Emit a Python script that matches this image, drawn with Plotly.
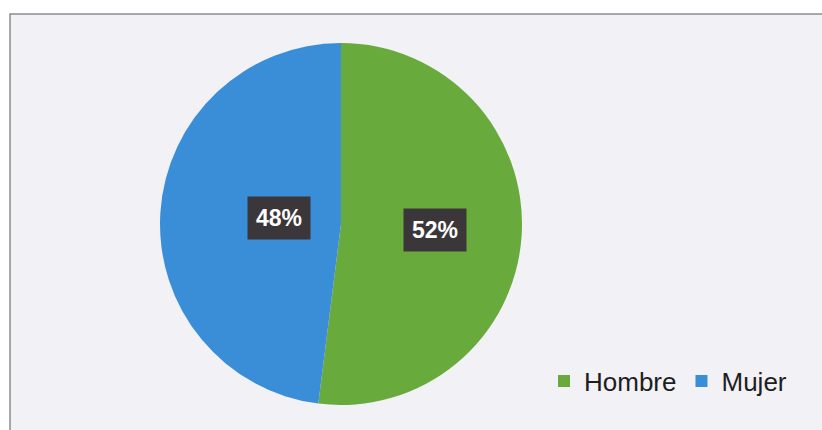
import math
import plotly.graph_objects as go

labels = ["Hombre", "Mujer"]
values = [52, 48]
colors = ["#68aa3c", "#3a8ed8"]

W, H = 822, 430
cx_px, cy_px, R_px = 341, 224, 181

dom_x = [(cx_px - R_px) / W, (cx_px + R_px) / W]
dom_y = [1 - (cy_px + R_px) / H, 1 - (cy_px - R_px) / H]

fig = go.Figure()
fig.add_trace(go.Pie(
    labels=labels, values=values,
    marker=dict(colors=colors, line=dict(width=0)),
    sort=False, direction="clockwise", rotation=0,
    textinfo="none", hoverinfo="label+percent",
    domain=dict(x=dom_x, y=dom_y),
))

# label boxes placed at the mid-angle of each slice
total = sum(values)
cum = 0
annotations = []
for v in values:
    mid = (cum + v / 2) / total * 2 * math.pi
    cum += v
    r = 0.52 * R_px
    px = cx_px + r * math.sin(mid)
    py = cy_px - r * math.cos(mid)
    annotations.append(dict(
        x=px / W, y=1 - py / H, xref="paper", yref="paper",
        text=f"<b>{round(v / total * 100)}%</b>", showarrow=False,
        font=dict(family="Liberation Sans, Arial, sans-serif", size=23, color="white"),
        bgcolor="#3b3639", borderpad=8,
    ))

fig.update_layout(
    width=W, height=H,
    margin=dict(l=0, r=0, t=0, b=0),
    paper_bgcolor="white",
    shapes=[dict(type="rect", xref="paper", yref="paper",
                 x0=10 / W, x1=1.01, y0=-0.01, y1=1 - 14 / H,
                 fillcolor="#f1f1f6", line=dict(color="#8a8a92", width=1.5),
                 layer="below")],
    annotations=annotations,
    showlegend=True,
    legend=dict(orientation="h", x=792 / W, xanchor="right", y=1 - 381 / H, yanchor="middle",
                font=dict(family="Liberation Sans, Arial, sans-serif", size=26, color="#1e1e1e"),
                bgcolor="rgba(0,0,0,0)", traceorder="normal", itemwidth=30),
)

fig.write_html("out.html", config={"displayModeBar": False},
               post_script="document.body.style.margin='0';document.body.style.overflow='hidden';")
